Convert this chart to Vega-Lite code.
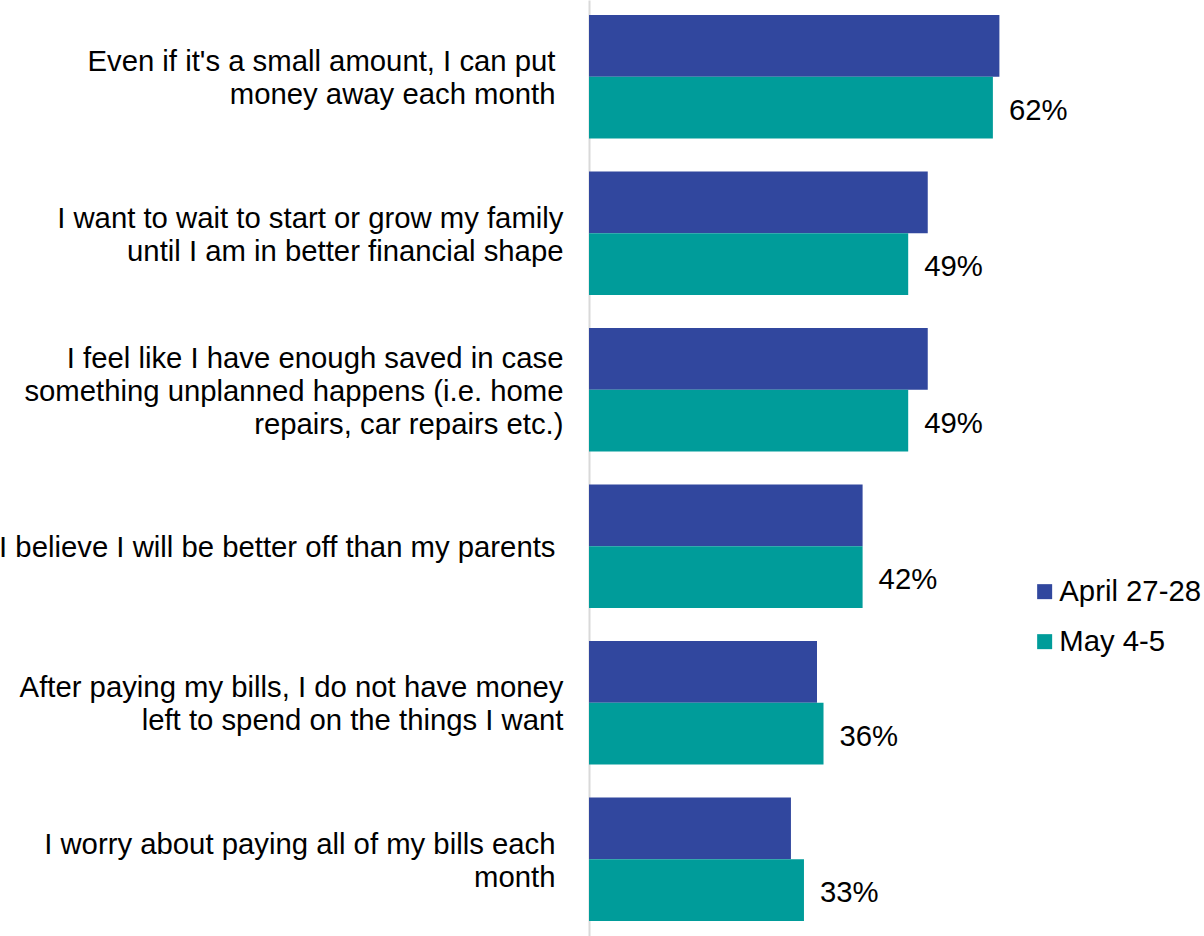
{
  "$schema": "https://vega.github.io/schema/vega-lite/v6.json",
  "autosize": "none",
  "width": 456,
  "height": 936,
  "padding": {"left": 589, "top": 0, "right": 159, "bottom": 0},
  "background": "white",
  "config": {"view": {"stroke": null}, "font": "Liberation Sans"},
  "data": {
    "values": [
      {"item": "Even if it's a small amount, I can put\u00a0|money away each month\u00a0", "period": "April 27-28", "value": 0.63},
      {"item": "Even if it's a small amount, I can put\u00a0|money away each month\u00a0", "period": "May 4-5", "value": 0.62},
      {"item": "I want to wait to start or grow my family|until I am in better financial shape", "period": "April 27-28", "value": 0.52},
      {"item": "I want to wait to start or grow my family|until I am in better financial shape", "period": "May 4-5", "value": 0.49},
      {"item": "I feel like I have enough saved in case|something unplanned happens (i.e. home|repairs, car repairs etc.)", "period": "April 27-28", "value": 0.52},
      {"item": "I feel like I have enough saved in case|something unplanned happens (i.e. home|repairs, car repairs etc.)", "period": "May 4-5", "value": 0.49},
      {"item": "I believe I will be better off than my parents\u00a0", "period": "April 27-28", "value": 0.42},
      {"item": "I believe I will be better off than my parents\u00a0", "period": "May 4-5", "value": 0.42},
      {"item": "After paying my bills, I do not have money|left to spend on the things I want", "period": "April 27-28", "value": 0.35},
      {"item": "After paying my bills, I do not have money|left to spend on the things I want", "period": "May 4-5", "value": 0.36},
      {"item": "I worry about paying all of my bills each\u00a0|month\u00a0", "period": "April 27-28", "value": 0.31},
      {"item": "I worry about paying all of my bills each\u00a0|month\u00a0", "period": "May 4-5", "value": 0.33}
    ]
  },
  "encoding": {
    "y": {
      "field": "item",
      "type": "nominal",
      "sort": null,
      "scale": {"paddingInner": 0.21, "paddingOuter": 0.0958},
      "axis": {
        "title": null,
        "ticks": false,
        "labelPadding": {"condition": {"test": "indexof(datum.label, '\u00a0') >= 0", "value": 34}, "value": 26},
        "labelOffset": {"condition": [
          {"test": "length(split(datum.label, '|')) == 2", "value": -14.5},
          {"test": "length(split(datum.label, '|')) == 3", "value": -31}
        ], "value": 2},
        "labelFontSize": 29.3,
        "labelFont": "Liberation Sans",
        "labelColor": "#000000",
        "labelLimit": 700,
        "labelLineHeight": 33,
        "labelBaseline": "middle",
        "labelExpr": "split(datum.label, '|')",
        "domainColor": "#d9d9d9",
        "domainWidth": 2
      }
    },
    "x": {
      "field": "value",
      "type": "quantitative",
      "scale": {"domain": [0, 0.7], "nice": false},
      "axis": null
    },
    "yOffset": {
      "field": "period",
      "type": "nominal",
      "sort": ["April 27-28", "May 4-5"],
      "scale": {"paddingInner": 0, "paddingOuter": 0}
    }
  },
  "layer": [
    {
      "mark": {"type": "bar"},
      "encoding": {
        "color": {
          "field": "period",
          "type": "nominal",
          "scale": {"domain": ["April 27-28", "May 4-5"], "range": ["#31479E", "#009C9A"]},
          "legend": {
            "title": null,
            "orient": "none",
            "legendX": 441,
            "legendY": 577,
            "symbolType": "square",
            "symbolSize": 225,
            "symbolStrokeWidth": 0,
            "labelFontSize": 29.3,
            "labelFont": "Liberation Sans",
            "labelColor": "#000000",
            "labelOffset": 0,
            "rowPadding": 20,
            "labelLimit": 300
          }
        }
      }
    },
    {
      "transform": [{"filter": "datum.period === 'May 4-5'"}],
      "mark": {"type": "text", "align": "left", "baseline": "middle", "dx": 16, "dy": 3, "fontSize": 29.3, "font": "Liberation Sans", "color": "#000000"},
      "encoding": {
        "text": {"field": "value", "type": "quantitative", "format": ".0%"}
      }
    }
  ]
}
